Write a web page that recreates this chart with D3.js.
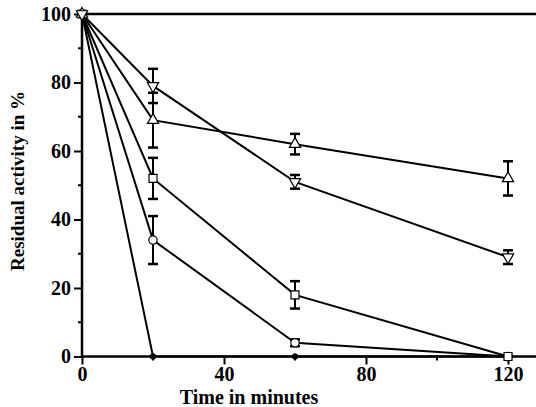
<!DOCTYPE html>
<html>
<head>
<meta charset="utf-8">
<script src="https://cdn.jsdelivr.net/npm/d3@7"></script>
<style>
	body { margin: 0; background: #fff; }
	text { font-family: "Liberation Serif", "Times New Roman", serif; font-weight: bold; fill: #000; }
</style>
</head>
<body>
<div id="chart"></div>
<script>
var times = [0, 20, 60, 120];

var downTri = [100, 79, 51, 29];
var downTriErr = [0, 5, 2, 2];
var upTri = [100, 69, 62, 52];
var upTriErr = [0, 8, 3, 5];
var squares = [100, 52, 18, 0];
var squaresErr = [0, 6, 4, 0];
var circles = [100, 34, 4, 0];
var circlesErr = [0, 7, 1, 0];
var filled = [100, 0, 0, 0];
var filledErr = [0, 0, 0, 0];

var xTicks = [0, 40, 80, 120];
var xMinor = [20, 60, 100];
var yTicks = [0, 20, 40, 60, 80, 100];
var yMinor = [10, 30, 50, 70, 90];

var w = 536,
	h = 407;

var svg = d3.select("#chart").append("svg")
	.attr("width", w)
	.attr("height", h)

var x = d3.scaleLinear()
	.domain([0, 120])
	.range([82, 508])

var y = d3.scaleLinear()
	.domain([0, 100])
	.range([356.5, 14])

// axes
var xAxis = d3.axisBottom(x).tickValues(xTicks).tickSize(8).tickPadding(2);
var yAxis = d3.axisLeft(y).tickValues(yTicks).tickSize(8).tickPadding(3);

var gx = svg.append("g")
	.attr("transform", "translate(0," + y(0) + ")")
	.call(xAxis)
gx.select(".domain").remove();

var gy = svg.append("g")
	.attr("transform", "translate(" + x(0) + ",0)")
	.call(yAxis)
gy.select(".domain").remove();

svg.selectAll(".tick line").attr("stroke-width", 2).attr("stroke", "#000");
svg.selectAll(".tick text").style("font-size", "20px");

svg.selectAll(".xminor")
	.data(xMinor)
	.enter()
	.append("line")
	.attr("x1", function(d) { return x(d)})
	.attr("x2", function(d) { return x(d)})
	.attr("y1", y(0))
	.attr("y2", y(0) + 4)
	.attr("stroke", "#000")
	.attr("stroke-width", 2)

svg.selectAll(".yminor")
	.data(yMinor)
	.enter()
	.append("line")
	.attr("x1", x(0) - 4)
	.attr("x2", x(0))
	.attr("y1", function(d) { return y(d)})
	.attr("y2", function(d) { return y(d)})
	.attr("stroke", "#000")
	.attr("stroke-width", 2)

// frame lines (right side is cut off in the original)
svg.append("line")
	.attr("x1", x(0)).attr("x2", w)
	.attr("y1", y(0)).attr("y2", y(0))
	.attr("stroke", "#000").attr("stroke-width", 2.5)
svg.append("line")
	.attr("x1", x(0)).attr("x2", w)
	.attr("y1", y(100)).attr("y2", y(100))
	.attr("stroke", "#000").attr("stroke-width", 2.5)
svg.append("line")
	.attr("x1", x(0)).attr("x2", x(0))
	.attr("y1", y(100)).attr("y2", y(0))
	.attr("stroke", "#000").attr("stroke-width", 2.5)

// labels
svg.append("text")
	.attr("x", 249)
	.attr("y", 404)
	.style("text-anchor", "middle")
	.style("font-size", "20px")
	.text("Time in minutes")

svg.append("text")
	.attr("transform", "translate(24,181) rotate(-90)")
	.style("text-anchor", "middle")
	.style("font-size", "19px")
	.text("Residual activity in %")

var series = [
	{vals: filled, err: filledErr, shape: "filled"},
	{vals: circles, err: circlesErr, shape: "circle"},
	{vals: squares, err: squaresErr, shape: "square"},
	{vals: upTri, err: upTriErr, shape: "up"},
	{vals: downTri, err: downTriErr, shape: "down"}
];

var line = d3.line()
	.x(function(d, i) { return x(times[i])})
	.y(function(d) { return y(d)})

series.forEach(function(s){
	svg.append("path")
		.datum(s.vals)
		.attr("d", line)
		.attr("fill", "none")
		.attr("stroke", "#000")
		.attr("stroke-width", 2)
})

// error bars
series.forEach(function(s){
	var pts = [];
	s.vals.forEach(function(v, i){
		if (s.err[i] > 0) pts.push({t: times[i], v: v, e: s.err[i]});
	})
	var g = svg.append("g")
	g.selectAll(".ebar")
		.data(pts)
		.enter()
		.append("line")
		.attr("x1", function(d) { return x(d.t)})
		.attr("x2", function(d) { return x(d.t)})
		.attr("y1", function(d) { return y(d.v + d.e)})
		.attr("y2", function(d) { return y(d.v - d.e)})
		.attr("stroke", "#000")
		.attr("stroke-width", 2)
	g.selectAll(".capTop")
		.data(pts)
		.enter()
		.append("line")
		.attr("x1", function(d) { return x(d.t) - 5})
		.attr("x2", function(d) { return x(d.t) + 5})
		.attr("y1", function(d) { return y(d.v + d.e)})
		.attr("y2", function(d) { return y(d.v + d.e)})
		.attr("stroke", "#000")
		.attr("stroke-width", 2.5)
	g.selectAll(".capBot")
		.data(pts)
		.enter()
		.append("line")
		.attr("x1", function(d) { return x(d.t) - 5})
		.attr("x2", function(d) { return x(d.t) + 5})
		.attr("y1", function(d) { return y(d.v - d.e)})
		.attr("y2", function(d) { return y(d.v - d.e)})
		.attr("stroke", "#000")
		.attr("stroke-width", 2.5)
})

// markers
var symbols = {
	filled: d3.symbol().type(d3.symbolCircle).size(22),
	circle: d3.symbol().type(d3.symbolCircle).size(55),
	square: d3.symbol().type(d3.symbolSquare).size(64),
	up: d3.symbol().type(d3.symbolTriangle).size(55),
	down: d3.symbol().type(d3.symbolTriangle).size(55)
};

series.forEach(function(s){
	svg.selectAll(".m-" + s.shape)
		.data(s.vals)
		.enter()
		.append("path")
		.attr("d", symbols[s.shape])
		.attr("transform", function(d, i) {
			var t = "translate(" + x(times[i]) + "," + y(d) + ")";
			if (s.shape == "down") t += " rotate(180)";
			return t;
		})
		.attr("fill", s.shape == "filled" ? "#000" : "#fff")
		.attr("stroke", "#000")
		.attr("stroke-width", 1.2)
})
</script>
</body>
</html>
